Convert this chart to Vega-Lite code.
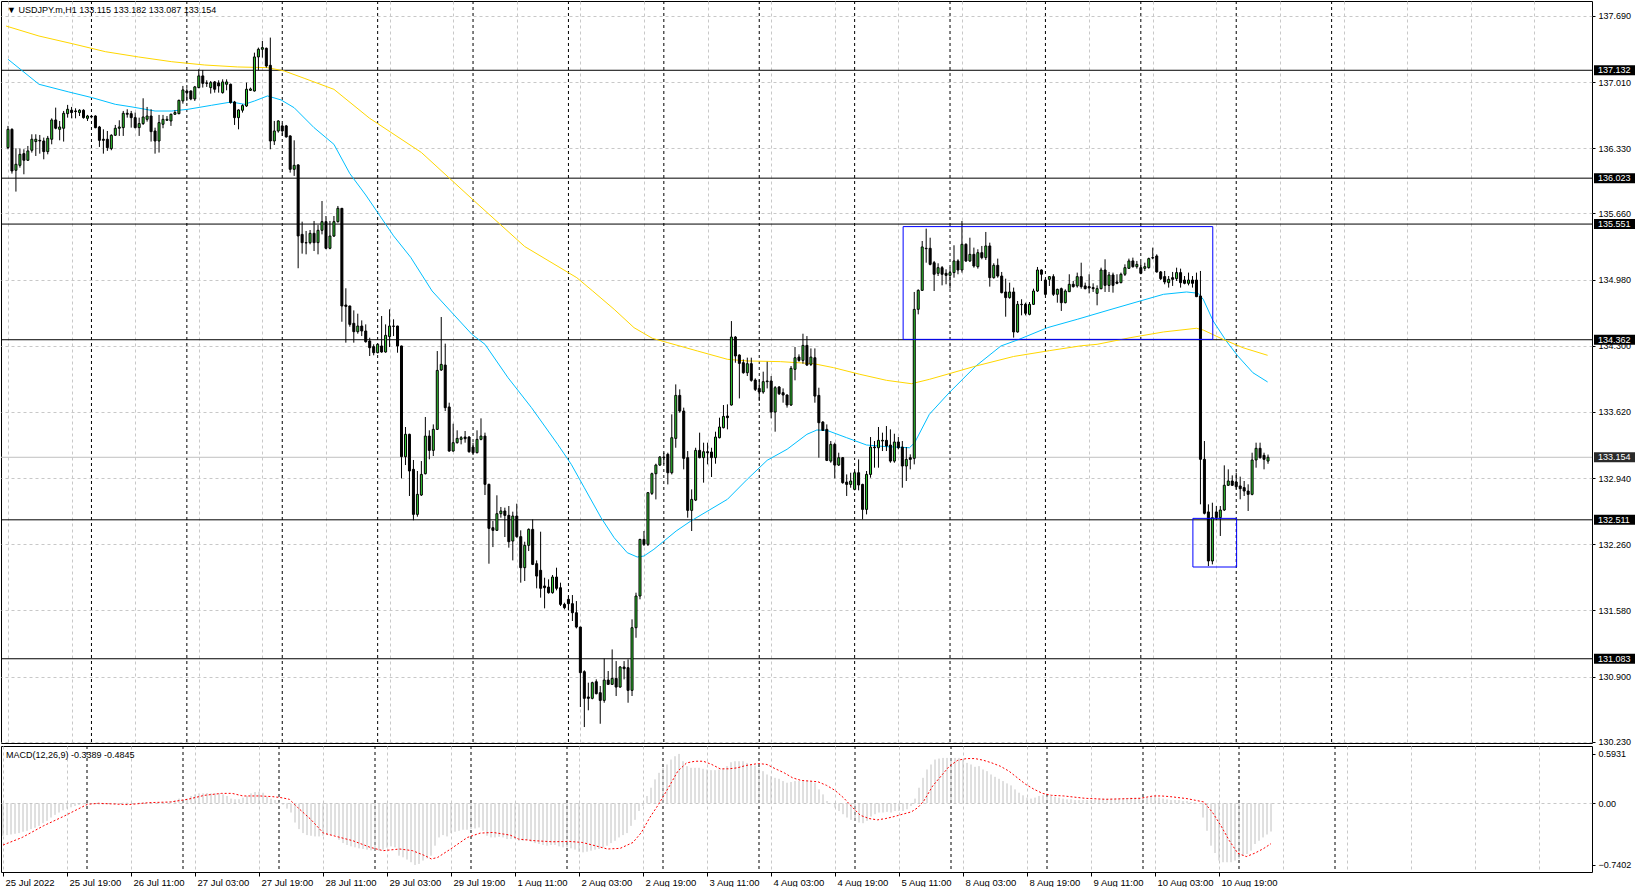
{
"$schema": "https://vega.github.io/schema/vega-lite/v6.json",
"padding": 0,
"background": "#ffffff",
"spacing": 3,
"bounds": "flush",
"config": {
  "font": "Liberation Sans",
  "view": {"stroke": "#000000", "strokeWidth": 1},
  "axis": {"labelFont": "Liberation Sans", "labelFontSize": 9, "labelColor": "#000000", "tickColor": "#000000"}
},
"datasets": {
"days": [{"i":21},{"i":45},{"i":69},{"i":93},{"i":117},{"i":141},{"i":165},{"i":189},{"i":213},{"i":237},{"i":261},{"i":285},{"i":309},{"i":333}],
"levels": [{"p":137.132,"k":"a"},{"p":136.023,"k":"a"},{"p":135.551,"k":"a"},{"p":134.362,"k":"a"},{"p":132.511,"k":"a"},{"p":131.083,"k":"a"},{"p":133.154,"k":"b"}],
"boxes": [{"i":225.2,"i2":303.1,"p":134.366,"p2":135.525},{"i":298.1,"i2":309.1,"p":132.026,"p2":132.526}],
"bars": [
{"i":0,"o":136.337,"h":136.56,"l":136.32,"c":136.525,"m":-0.39},
{"i":1,"o":136.525,"h":136.535,"l":136.07,"c":136.097,"m":-0.382},
{"i":2,"o":136.104,"h":136.33,"l":135.885,"c":136.166,"m":-0.374},
{"i":3,"o":136.155,"h":136.327,"l":136.131,"c":136.268,"m":-0.366},
{"i":4,"o":136.275,"h":136.32,"l":136.063,"c":136.207,"m":-0.358},
{"i":5,"o":136.207,"h":136.354,"l":136.2,"c":136.303,"m":-0.342},
{"i":6,"o":136.31,"h":136.474,"l":136.286,"c":136.423,"m":-0.33},
{"i":7,"o":136.399,"h":136.474,"l":136.251,"c":136.423,"m":-0.31},
{"i":8,"o":136.412,"h":136.467,"l":136.275,"c":136.405,"m":-0.294},
{"i":9,"o":136.405,"h":136.44,"l":136.217,"c":136.296,"m":-0.271},
{"i":10,"o":136.296,"h":136.457,"l":136.268,"c":136.433,"m":-0.239},
{"i":11,"o":136.423,"h":136.638,"l":136.371,"c":136.621,"m":-0.211},
{"i":12,"o":136.621,"h":136.748,"l":136.525,"c":136.536,"m":-0.171},
{"i":13,"o":136.525,"h":136.611,"l":136.412,"c":136.549,"m":-0.139},
{"i":14,"o":136.536,"h":136.714,"l":136.399,"c":136.69,"m":-0.111},
{"i":15,"o":136.686,"h":136.776,"l":136.645,"c":136.731,"m":-0.084},
{"i":16,"o":136.721,"h":136.755,"l":136.638,"c":136.697,"m":-0.064},
{"i":17,"o":136.714,"h":136.741,"l":136.638,"c":136.707,"m":-0.048},
{"i":18,"o":136.697,"h":136.731,"l":136.662,"c":136.721,"m":-0.032},
{"i":19,"o":136.721,"h":136.731,"l":136.635,"c":136.645,"m":-0.02},
{"i":20,"o":136.638,"h":136.673,"l":136.611,"c":136.662,"m":-0.012},
{"i":21,"o":136.659,"h":136.673,"l":136.638,"c":136.652,"m":-0.008},
{"i":22,"o":136.662,"h":136.669,"l":136.536,"c":136.542,"m":-0.008},
{"i":23,"o":136.549,"h":136.56,"l":136.344,"c":136.412,"m":-0.012},
{"i":24,"o":136.423,"h":136.525,"l":136.275,"c":136.412,"m":-0.016},
{"i":25,"o":136.423,"h":136.508,"l":136.303,"c":136.337,"m":-0.016},
{"i":26,"o":136.327,"h":136.474,"l":136.31,"c":136.464,"m":-0.012},
{"i":27,"o":136.464,"h":136.57,"l":136.457,"c":136.536,"m":-0.008},
{"i":28,"o":136.536,"h":136.618,"l":136.457,"c":136.549,"m":-0.004},
{"i":29,"o":136.542,"h":136.714,"l":136.457,"c":136.69,"m":0.004},
{"i":30,"o":136.69,"h":136.731,"l":136.645,"c":136.68,"m":0.008},
{"i":31,"o":136.686,"h":136.714,"l":136.542,"c":136.645,"m":0.008},
{"i":32,"o":136.645,"h":136.697,"l":136.536,"c":136.542,"m":0.004},
{"i":33,"o":136.542,"h":136.645,"l":136.457,"c":136.584,"m":0.004},
{"i":34,"o":136.584,"h":136.844,"l":136.57,"c":136.652,"m":0.008},
{"i":35,"o":136.628,"h":136.755,"l":136.604,"c":136.662,"m":0.012},
{"i":36,"o":136.662,"h":136.731,"l":136.399,"c":136.501,"m":0.008},
{"i":37,"o":136.508,"h":136.542,"l":136.275,"c":136.405,"m":-0.002},
{"i":38,"o":136.405,"h":136.673,"l":136.286,"c":136.594,"m":0.004},
{"i":39,"o":136.577,"h":136.673,"l":136.536,"c":136.628,"m":0.008},
{"i":40,"o":136.618,"h":136.662,"l":136.611,"c":136.628,"m":0.012},
{"i":41,"o":136.611,"h":136.686,"l":136.56,"c":136.68,"m":0.016},
{"i":42,"o":136.68,"h":136.721,"l":136.673,"c":136.697,"m":0.024},
{"i":43,"o":136.686,"h":136.83,"l":136.68,"c":136.823,"m":0.036},
{"i":44,"o":136.817,"h":136.971,"l":136.789,"c":136.93,"m":0.056},
{"i":45,"o":136.919,"h":136.947,"l":136.817,"c":136.902,"m":0.048},
{"i":46,"o":136.919,"h":136.925,"l":136.824,"c":136.837,"m":0.056},
{"i":47,"o":136.837,"h":136.971,"l":136.817,"c":136.961,"m":0.088},
{"i":48,"o":136.954,"h":137.142,"l":136.947,"c":137.074,"m":0.107},
{"i":49,"o":137.074,"h":137.135,"l":136.954,"c":136.998,"m":0.119},
{"i":50,"o":137.002,"h":137.029,"l":136.961,"c":136.998,"m":0.119},
{"i":51,"o":136.954,"h":137.022,"l":136.892,"c":137.005,"m":0.123},
{"i":52,"o":137.012,"h":137.022,"l":136.902,"c":136.937,"m":0.119},
{"i":53,"o":137.002,"h":137.029,"l":136.902,"c":136.971,"m":0.119},
{"i":54,"o":136.902,"h":137.039,"l":136.892,"c":137.012,"m":0.119},
{"i":55,"o":136.988,"h":137.039,"l":136.926,"c":137.012,"m":0.107},
{"i":56,"o":136.988,"h":136.995,"l":136.789,"c":136.8,"m":0.088},
{"i":57,"o":136.806,"h":136.817,"l":136.57,"c":136.645,"m":0.056},
{"i":58,"o":136.645,"h":136.731,"l":136.525,"c":136.724,"m":0.048},
{"i":59,"o":136.721,"h":136.782,"l":136.697,"c":136.769,"m":0.048},
{"i":60,"o":136.765,"h":137.005,"l":136.755,"c":136.937,"m":0.068},
{"i":61,"o":136.926,"h":136.954,"l":136.919,"c":136.94,"m":0.088},
{"i":62,"o":136.919,"h":137.313,"l":136.913,"c":137.269,"m":0.119},
{"i":63,"o":137.269,"h":137.365,"l":137.132,"c":137.348,"m":0.135},
{"i":64,"o":137.348,"h":137.433,"l":137.262,"c":137.365,"m":0.139},
{"i":65,"o":137.358,"h":137.365,"l":137.159,"c":137.176,"m":0.127},
{"i":66,"o":137.183,"h":137.468,"l":136.32,"c":136.405,"m":0.08},
{"i":67,"o":136.405,"h":136.611,"l":136.364,"c":136.508,"m":0.056},
{"i":68,"o":136.508,"h":136.618,"l":136.491,"c":136.611,"m":0.04},
{"i":69,"o":136.56,"h":136.584,"l":136.457,"c":136.508,"m":0.016},
{"i":70,"o":136.56,"h":136.57,"l":136.44,"c":136.447,"m":-0.016},
{"i":71,"o":136.457,"h":136.462,"l":136.08,"c":136.114,"m":-0.064},
{"i":72,"o":136.114,"h":136.412,"l":136.046,"c":136.155,"m":-0.111},
{"i":73,"o":136.159,"h":136.165,"l":135.097,"c":135.429,"m":-0.231},
{"i":74,"o":135.445,"h":135.576,"l":135.247,"c":135.36,"m":-0.31},
{"i":75,"o":135.36,"h":135.48,"l":135.24,"c":135.357,"m":-0.358},
{"i":76,"o":135.36,"h":135.49,"l":135.343,"c":135.456,"m":-0.382},
{"i":77,"o":135.456,"h":135.583,"l":135.274,"c":135.36,"m":-0.39},
{"i":78,"o":135.36,"h":135.541,"l":135.24,"c":135.487,"m":-0.398},
{"i":79,"o":135.487,"h":135.788,"l":135.445,"c":135.576,"m":-0.398},
{"i":80,"o":135.576,"h":135.634,"l":135.292,"c":135.302,"m":-0.39},
{"i":81,"o":135.302,"h":135.583,"l":135.292,"c":135.428,"m":-0.382},
{"i":82,"o":135.428,"h":135.634,"l":135.418,"c":135.576,"m":-0.382},
{"i":83,"o":135.576,"h":135.737,"l":135.566,"c":135.713,"m":-0.382},
{"i":84,"o":135.713,"h":135.716,"l":134.547,"c":134.709,"m":-0.438},
{"i":85,"o":134.719,"h":134.891,"l":134.332,"c":134.705,"m":-0.478},
{"i":86,"o":134.709,"h":134.712,"l":134.496,"c":134.52,"m":-0.501},
{"i":87,"o":134.531,"h":134.664,"l":134.332,"c":134.445,"m":-0.517},
{"i":88,"o":134.445,"h":134.63,"l":134.424,"c":134.503,"m":-0.529},
{"i":89,"o":134.503,"h":134.561,"l":134.4,"c":134.452,"m":-0.541},
{"i":90,"o":134.452,"h":134.52,"l":134.332,"c":134.342,"m":-0.549},
{"i":91,"o":134.349,"h":134.383,"l":134.195,"c":134.28,"m":-0.557},
{"i":92,"o":134.291,"h":134.315,"l":134.202,"c":134.229,"m":-0.565},
{"i":93,"o":134.229,"h":134.322,"l":134.222,"c":134.315,"m":-0.573},
{"i":94,"o":134.298,"h":134.606,"l":134.229,"c":134.236,"m":-0.569},
{"i":95,"o":134.236,"h":134.52,"l":134.229,"c":134.407,"m":-0.557},
{"i":96,"o":134.394,"h":134.675,"l":134.287,"c":134.503,"m":-0.533},
{"i":97,"o":134.503,"h":134.572,"l":134.4,"c":134.5,"m":-0.517},
{"i":98,"o":134.503,"h":134.506,"l":134.229,"c":134.298,"m":-0.529},
{"i":99,"o":134.298,"h":134.301,"l":132.937,"c":133.16,"m":-0.629},
{"i":100,"o":133.16,"h":133.465,"l":133.074,"c":133.39,"m":-0.649},
{"i":101,"o":133.39,"h":133.396,"l":132.756,"c":133.013,"m":-0.676},
{"i":102,"o":133.03,"h":133.126,"l":132.506,"c":132.567,"m":-0.708},
{"i":103,"o":132.567,"h":133.013,"l":132.543,"c":132.773,"m":-0.7402},
{"i":104,"o":132.766,"h":133.115,"l":132.756,"c":132.978,"m":-0.728},
{"i":105,"o":132.985,"h":133.568,"l":132.978,"c":133.372,"m":-0.688},
{"i":106,"o":133.372,"h":133.431,"l":133.133,"c":133.225,"m":-0.661},
{"i":107,"o":133.225,"h":133.492,"l":133.167,"c":133.441,"m":-0.629},
{"i":108,"o":133.441,"h":134.246,"l":133.434,"c":134.047,"m":-0.509},
{"i":109,"o":134.051,"h":134.596,"l":134.041,"c":134.109,"m":-0.41},
{"i":110,"o":134.102,"h":134.322,"l":133.629,"c":133.664,"m":-0.382},
{"i":111,"o":133.671,"h":133.715,"l":133.211,"c":133.218,"m":-0.398},
{"i":112,"o":133.218,"h":133.499,"l":133.211,"c":133.304,"m":-0.358},
{"i":113,"o":133.304,"h":133.431,"l":133.294,"c":133.348,"m":-0.342},
{"i":114,"o":133.338,"h":133.372,"l":133.287,"c":133.355,"m":-0.33},
{"i":115,"o":133.362,"h":133.424,"l":133.304,"c":133.345,"m":-0.318},
{"i":116,"o":133.362,"h":133.372,"l":133.201,"c":133.211,"m":-0.318},
{"i":117,"o":133.259,"h":133.304,"l":133.177,"c":133.201,"m":-0.31},
{"i":118,"o":133.201,"h":133.431,"l":133.194,"c":133.338,"m":-0.302},
{"i":119,"o":133.338,"h":133.554,"l":133.328,"c":133.372,"m":-0.29},
{"i":120,"o":133.372,"h":133.407,"l":132.766,"c":132.876,"m":-0.33},
{"i":121,"o":132.876,"h":132.882,"l":132.06,"c":132.423,"m":-0.39},
{"i":122,"o":132.43,"h":132.499,"l":132.231,"c":132.403,"m":-0.41},
{"i":123,"o":132.403,"h":132.763,"l":132.396,"c":132.574,"m":-0.41},
{"i":124,"o":132.574,"h":132.643,"l":132.533,"c":132.602,"m":-0.402},
{"i":125,"o":132.602,"h":132.636,"l":132.334,"c":132.557,"m":-0.41},
{"i":126,"o":132.557,"h":132.653,"l":132.225,"c":132.286,"m":-0.43},
{"i":127,"o":132.293,"h":132.595,"l":132.094,"c":132.55,"m":-0.43},
{"i":128,"o":132.55,"h":132.677,"l":132.327,"c":132.338,"m":-0.43},
{"i":129,"o":132.338,"h":132.403,"l":131.865,"c":132.019,"m":-0.45},
{"i":130,"o":132.019,"h":132.286,"l":131.882,"c":132.249,"m":-0.45},
{"i":131,"o":132.249,"h":132.423,"l":132.19,"c":132.413,"m":-0.442},
{"i":132,"o":132.413,"h":132.516,"l":132.046,"c":132.053,"m":-0.462},
{"i":133,"o":132.06,"h":132.094,"l":131.807,"c":131.933,"m":-0.478},
{"i":134,"o":131.992,"h":132.389,"l":131.711,"c":131.807,"m":-0.489},
{"i":135,"o":131.831,"h":131.916,"l":131.601,"c":131.813,"m":-0.501},
{"i":136,"o":131.82,"h":131.899,"l":131.752,"c":131.762,"m":-0.509},
{"i":137,"o":131.762,"h":131.944,"l":131.752,"c":131.923,"m":-0.501},
{"i":138,"o":131.923,"h":132.019,"l":131.786,"c":131.807,"m":-0.501},
{"i":139,"o":131.813,"h":131.865,"l":131.625,"c":131.642,"m":-0.517},
{"i":140,"o":131.642,"h":131.659,"l":131.591,"c":131.608,"m":-0.529},
{"i":141,"o":131.694,"h":131.728,"l":131.58,"c":131.649,"m":-0.529},
{"i":142,"o":131.649,"h":131.738,"l":131.471,"c":131.556,"m":-0.541},
{"i":143,"o":131.556,"h":131.676,"l":131.395,"c":131.409,"m":-0.557},
{"i":144,"o":131.409,"h":131.412,"l":130.587,"c":130.94,"m":-0.581},
{"i":145,"o":130.95,"h":130.964,"l":130.381,"c":130.676,"m":-0.589},
{"i":146,"o":130.69,"h":130.837,"l":130.553,"c":130.676,"m":-0.581},
{"i":147,"o":130.676,"h":130.847,"l":130.666,"c":130.837,"m":-0.569},
{"i":148,"o":130.847,"h":130.871,"l":130.717,"c":130.724,"m":-0.557},
{"i":149,"o":130.734,"h":130.803,"l":130.415,"c":130.655,"m":-0.549},
{"i":150,"o":130.655,"h":131.084,"l":130.631,"c":130.864,"m":-0.529},
{"i":151,"o":130.864,"h":130.957,"l":130.813,"c":130.82,"m":-0.509},
{"i":152,"o":130.82,"h":131.179,"l":130.813,"c":130.881,"m":-0.478},
{"i":153,"o":130.881,"h":131.059,"l":130.7,"c":130.792,"m":-0.45},
{"i":154,"o":130.792,"h":131.008,"l":130.785,"c":130.998,"m":-0.41},
{"i":155,"o":130.998,"h":131.059,"l":130.871,"c":130.981,"m":-0.382},
{"i":156,"o":130.991,"h":131.077,"l":130.631,"c":130.758,"m":-0.358},
{"i":157,"o":130.758,"h":131.488,"l":130.7,"c":131.402,"m":-0.271},
{"i":158,"o":131.402,"h":131.762,"l":131.299,"c":131.728,"m":-0.199},
{"i":159,"o":131.728,"h":132.315,"l":131.694,"c":132.31,"m":-0.092},
{"i":160,"o":132.31,"h":132.396,"l":132.242,"c":132.259,"m":-0.032},
{"i":161,"o":132.259,"h":132.795,"l":132.242,"c":132.79,"m":0.088},
{"i":162,"o":132.783,"h":132.996,"l":132.766,"c":132.985,"m":0.187},
{"i":163,"o":132.985,"h":133.088,"l":132.721,"c":133.074,"m":0.287},
{"i":164,"o":133.074,"h":133.167,"l":133.064,"c":133.156,"m":0.366},
{"i":165,"o":133.156,"h":133.201,"l":133.081,"c":133.15,"m":0.426},
{"i":166,"o":133.184,"h":133.201,"l":132.875,"c":132.995,"m":0.466},
{"i":167,"o":132.995,"h":133.595,"l":132.978,"c":133.355,"m":0.525},
{"i":168,"o":133.348,"h":133.903,"l":133.252,"c":133.79,"m":0.565},
{"i":169,"o":133.79,"h":133.852,"l":133.612,"c":133.629,"m":0.5931},
{"i":170,"o":133.629,"h":133.664,"l":133.03,"c":133.143,"m":0.505},
{"i":171,"o":133.15,"h":133.218,"l":132.533,"c":132.608,"m":0.446},
{"i":172,"o":132.608,"h":132.824,"l":132.396,"c":132.721,"m":0.426},
{"i":173,"o":132.714,"h":133.252,"l":132.704,"c":133.225,"m":0.426},
{"i":174,"o":133.225,"h":133.407,"l":133.143,"c":133.15,"m":0.426},
{"i":175,"o":133.15,"h":133.304,"l":132.893,"c":133.211,"m":0.414},
{"i":176,"o":133.211,"h":133.304,"l":133.081,"c":133.201,"m":0.406},
{"i":177,"o":133.208,"h":133.252,"l":132.951,"c":133.15,"m":0.398},
{"i":178,"o":133.15,"h":133.417,"l":133.088,"c":133.362,"m":0.398},
{"i":179,"o":133.355,"h":133.561,"l":133.348,"c":133.465,"m":0.406},
{"i":180,"o":133.458,"h":133.691,"l":133.451,"c":133.574,"m":0.414},
{"i":181,"o":133.578,"h":133.698,"l":133.441,"c":133.561,"m":0.446},
{"i":182,"o":133.691,"h":134.554,"l":133.685,"c":134.39,"m":0.493},
{"i":183,"o":134.39,"h":134.4,"l":134.126,"c":134.195,"m":0.505},
{"i":184,"o":134.205,"h":134.212,"l":133.759,"c":134.119,"m":0.505},
{"i":185,"o":134.126,"h":134.16,"l":134.013,"c":134.023,"m":0.505},
{"i":186,"o":134.023,"h":134.178,"l":133.989,"c":134.116,"m":0.485},
{"i":187,"o":134.116,"h":134.178,"l":133.931,"c":133.945,"m":0.466},
{"i":188,"o":133.948,"h":133.965,"l":133.835,"c":133.852,"m":0.454},
{"i":189,"o":133.862,"h":133.955,"l":133.732,"c":133.825,"m":0.426},
{"i":190,"o":133.825,"h":134.034,"l":133.807,"c":133.931,"m":0.386},
{"i":191,"o":133.931,"h":134.136,"l":133.862,"c":133.938,"m":0.346},
{"i":192,"o":133.938,"h":133.989,"l":133.554,"c":133.619,"m":0.326},
{"i":193,"o":133.619,"h":133.886,"l":133.417,"c":133.869,"m":0.306},
{"i":194,"o":133.876,"h":133.886,"l":133.794,"c":133.807,"m":0.294},
{"i":195,"o":133.818,"h":133.862,"l":133.715,"c":133.794,"m":0.267},
{"i":196,"o":133.794,"h":133.801,"l":133.664,"c":133.691,"m":0.247},
{"i":197,"o":133.691,"h":134.092,"l":133.681,"c":134.068,"m":0.255},
{"i":198,"o":134.058,"h":134.287,"l":133.945,"c":134.177,"m":0.267},
{"i":199,"o":134.184,"h":134.212,"l":134.136,"c":134.15,"m":0.267},
{"i":200,"o":134.15,"h":134.424,"l":134.116,"c":134.304,"m":0.267},
{"i":201,"o":134.304,"h":134.4,"l":134.092,"c":134.102,"m":0.267},
{"i":202,"o":134.109,"h":134.273,"l":134.092,"c":134.184,"m":0.267},
{"i":203,"o":134.177,"h":134.273,"l":133.715,"c":133.783,"m":0.247},
{"i":204,"o":133.79,"h":133.869,"l":133.15,"c":133.509,"m":0.167},
{"i":205,"o":133.516,"h":133.526,"l":133.424,"c":133.43,"m":0.107},
{"i":206,"o":133.441,"h":133.492,"l":133.115,"c":133.122,"m":0.028},
{"i":207,"o":133.115,"h":133.321,"l":133.098,"c":133.287,"m":-0.005},
{"i":208,"o":133.287,"h":133.304,"l":132.937,"c":133.074,"m":-0.052},
{"i":209,"o":133.074,"h":133.201,"l":133.064,"c":133.15,"m":-0.092},
{"i":210,"o":133.15,"h":133.156,"l":132.882,"c":132.893,"m":-0.131},
{"i":211,"o":132.899,"h":132.978,"l":132.756,"c":132.875,"m":-0.171},
{"i":212,"o":132.875,"h":132.995,"l":132.841,"c":132.91,"m":-0.199},
{"i":213,"o":132.824,"h":133.013,"l":132.814,"c":132.995,"m":-0.211},
{"i":214,"o":132.995,"h":133.132,"l":132.814,"c":132.869,"m":-0.231},
{"i":215,"o":132.875,"h":132.882,"l":132.516,"c":132.618,"m":-0.239},
{"i":216,"o":132.618,"h":133.013,"l":132.567,"c":132.978,"m":-0.211},
{"i":217,"o":132.978,"h":133.362,"l":132.944,"c":133.259,"m":-0.159},
{"i":218,"o":133.259,"h":133.321,"l":133.047,"c":133.252,"m":-0.131},
{"i":219,"o":133.252,"h":133.465,"l":133.047,"c":133.328,"m":-0.111},
{"i":220,"o":133.321,"h":133.407,"l":133.218,"c":133.328,"m":-0.111},
{"i":221,"o":133.328,"h":133.475,"l":133.218,"c":133.27,"m":-0.103},
{"i":222,"o":133.28,"h":133.441,"l":133.098,"c":133.115,"m":-0.111},
{"i":223,"o":133.115,"h":133.396,"l":133.098,"c":133.311,"m":-0.092},
{"i":224,"o":133.311,"h":133.362,"l":133.235,"c":133.252,"m":-0.092},
{"i":225,"o":133.259,"h":133.321,"l":132.841,"c":133.064,"m":-0.092},
{"i":226,"o":133.064,"h":133.259,"l":132.91,"c":133.132,"m":-0.072},
{"i":227,"o":133.15,"h":133.184,"l":133.03,"c":133.132,"m":-0.032},
{"i":228,"o":133.143,"h":134.853,"l":133.081,"c":134.674,"m":0.056},
{"i":229,"o":134.675,"h":134.88,"l":134.623,"c":134.87,"m":0.187},
{"i":230,"o":134.87,"h":135.377,"l":134.863,"c":135.316,"m":0.306},
{"i":231,"o":135.302,"h":135.504,"l":135.154,"c":135.298,"m":0.406},
{"i":232,"o":135.302,"h":135.411,"l":135.127,"c":135.137,"m":0.466},
{"i":233,"o":135.154,"h":135.172,"l":134.863,"c":135.035,"m":0.525},
{"i":234,"o":135.045,"h":135.148,"l":135.017,"c":135.103,"m":0.537},
{"i":235,"o":135.103,"h":135.12,"l":134.921,"c":135.035,"m":0.545},
{"i":236,"o":135.045,"h":135.086,"l":134.932,"c":135.024,"m":0.545},
{"i":237,"o":135.024,"h":135.103,"l":134.887,"c":135.052,"m":0.545},
{"i":238,"o":135.052,"h":135.333,"l":135.0,"c":135.172,"m":0.545},
{"i":239,"o":135.172,"h":135.189,"l":135.035,"c":135.079,"m":0.545},
{"i":240,"o":135.079,"h":135.583,"l":135.052,"c":135.343,"m":0.525},
{"i":241,"o":135.343,"h":135.353,"l":135.161,"c":135.172,"m":0.485},
{"i":242,"o":135.172,"h":135.411,"l":135.161,"c":135.24,"m":0.466},
{"i":243,"o":135.24,"h":135.309,"l":135.103,"c":135.12,"m":0.438},
{"i":244,"o":135.113,"h":135.292,"l":135.093,"c":135.257,"m":0.446},
{"i":245,"o":135.257,"h":135.326,"l":135.189,"c":135.206,"m":0.406},
{"i":246,"o":135.206,"h":135.47,"l":135.182,"c":135.326,"m":0.386},
{"i":247,"o":135.326,"h":135.36,"l":134.908,"c":135.0,"m":0.346},
{"i":248,"o":135.0,"h":135.148,"l":134.99,"c":135.127,"m":0.318},
{"i":249,"o":135.127,"h":135.196,"l":135.0,"c":135.017,"m":0.294},
{"i":250,"o":135.017,"h":135.059,"l":134.839,"c":134.846,"m":0.267},
{"i":251,"o":134.853,"h":134.99,"l":134.599,"c":134.795,"m":0.239},
{"i":252,"o":134.795,"h":134.949,"l":134.784,"c":134.853,"m":0.215},
{"i":253,"o":134.853,"h":134.898,"l":134.384,"c":134.442,"m":0.167},
{"i":254,"o":134.442,"h":134.76,"l":134.435,"c":134.726,"m":0.127},
{"i":255,"o":134.726,"h":134.778,"l":134.613,"c":134.723,"m":0.096},
{"i":256,"o":134.726,"h":134.743,"l":134.613,"c":134.634,"m":0.068},
{"i":257,"o":134.623,"h":134.75,"l":134.613,"c":134.726,"m":0.056},
{"i":258,"o":134.726,"h":134.887,"l":134.719,"c":134.863,"m":0.068},
{"i":259,"o":134.863,"h":135.11,"l":134.853,"c":135.079,"m":0.088},
{"i":260,"o":135.079,"h":135.086,"l":134.966,"c":135.035,"m":0.096},
{"i":261,"o":134.976,"h":134.99,"l":134.819,"c":134.829,"m":0.088},
{"i":262,"o":134.983,"h":135.017,"l":134.915,"c":135.011,"m":0.088},
{"i":263,"o":135.011,"h":135.035,"l":134.812,"c":134.829,"m":0.08},
{"i":264,"o":134.829,"h":134.887,"l":134.743,"c":134.88,"m":0.068},
{"i":265,"o":134.887,"h":134.898,"l":134.658,"c":134.743,"m":0.056},
{"i":266,"o":134.743,"h":134.88,"l":134.736,"c":134.863,"m":0.048},
{"i":267,"o":134.856,"h":135.035,"l":134.853,"c":134.932,"m":0.048},
{"i":268,"o":134.932,"h":134.966,"l":134.898,"c":134.908,"m":0.04},
{"i":269,"o":134.915,"h":135.052,"l":134.898,"c":135.011,"m":0.04},
{"i":270,"o":135.011,"h":135.154,"l":134.887,"c":134.908,"m":0.04},
{"i":271,"o":134.915,"h":134.949,"l":134.88,"c":134.887,"m":0.04},
{"i":272,"o":134.908,"h":135.035,"l":134.839,"c":134.894,"m":0.04},
{"i":273,"o":134.898,"h":134.942,"l":134.853,"c":134.887,"m":0.04},
{"i":274,"o":134.839,"h":134.921,"l":134.716,"c":134.887,"m":0.048},
{"i":275,"o":134.887,"h":135.103,"l":134.88,"c":135.079,"m":0.056},
{"i":276,"o":135.079,"h":135.189,"l":134.853,"c":134.921,"m":0.056},
{"i":277,"o":134.921,"h":135.059,"l":134.853,"c":135.028,"m":0.056},
{"i":278,"o":135.028,"h":135.052,"l":134.846,"c":134.921,"m":0.056},
{"i":279,"o":134.956,"h":135.035,"l":134.932,"c":134.942,"m":0.056},
{"i":280,"o":134.949,"h":135.052,"l":134.942,"c":135.035,"m":0.056},
{"i":281,"o":135.035,"h":135.137,"l":135.017,"c":135.103,"m":0.064},
{"i":282,"o":135.096,"h":135.196,"l":135.093,"c":135.172,"m":0.068},
{"i":283,"o":135.172,"h":135.206,"l":135.103,"c":135.113,"m":0.068},
{"i":284,"o":135.113,"h":135.172,"l":135.093,"c":135.137,"m":0.068},
{"i":285,"o":135.103,"h":135.161,"l":135.035,"c":135.045,"m":0.068},
{"i":286,"o":135.096,"h":135.154,"l":135.069,"c":135.113,"m":0.068},
{"i":287,"o":135.103,"h":135.206,"l":135.093,"c":135.196,"m":0.08},
{"i":288,"o":135.206,"h":135.309,"l":135.189,"c":135.202,"m":0.08},
{"i":289,"o":135.223,"h":135.24,"l":135.052,"c":135.059,"m":0.068},
{"i":290,"o":135.059,"h":135.069,"l":134.976,"c":134.99,"m":0.056},
{"i":291,"o":135.011,"h":135.069,"l":134.932,"c":134.956,"m":0.048},
{"i":292,"o":134.949,"h":135.017,"l":134.898,"c":134.983,"m":0.04},
{"i":293,"o":135.0,"h":135.059,"l":134.915,"c":134.983,"m":0.04},
{"i":294,"o":134.99,"h":135.103,"l":134.966,"c":135.052,"m":0.04},
{"i":295,"o":135.052,"h":135.093,"l":134.898,"c":134.949,"m":0.028},
{"i":296,"o":134.976,"h":135.017,"l":134.932,"c":134.942,"m":0.028},
{"i":297,"o":134.942,"h":135.052,"l":134.921,"c":134.976,"m":0.016},
{"i":298,"o":134.976,"h":135.017,"l":134.898,"c":134.942,"m":0.008},
{"i":299,"o":134.976,"h":135.052,"l":134.8,"c":134.805,"m":0.002},
{"i":300,"o":134.812,"h":135.069,"l":132.67,"c":133.133,"m":-0.171},
{"i":301,"o":133.133,"h":133.321,"l":132.567,"c":132.578,"m":-0.33},
{"i":302,"o":132.592,"h":132.67,"l":132.036,"c":132.088,"m":-0.509},
{"i":303,"o":132.088,"h":132.687,"l":132.053,"c":132.533,"m":-0.597},
{"i":304,"o":132.592,"h":132.653,"l":132.509,"c":132.533,"m":-0.688},
{"i":305,"o":132.533,"h":132.653,"l":132.345,"c":132.612,"m":-0.708},
{"i":306,"o":132.612,"h":133.071,"l":132.602,"c":132.866,"m":-0.708},
{"i":307,"o":132.866,"h":133.03,"l":132.859,"c":132.91,"m":-0.708},
{"i":308,"o":132.91,"h":132.968,"l":132.859,"c":132.866,"m":-0.688},
{"i":309,"o":132.9,"h":132.996,"l":132.824,"c":132.852,"m":-0.668},
{"i":310,"o":132.859,"h":132.955,"l":132.722,"c":132.831,"m":-0.629},
{"i":311,"o":132.842,"h":132.91,"l":132.756,"c":132.807,"m":-0.609},
{"i":312,"o":132.807,"h":132.876,"l":132.602,"c":132.773,"m":-0.569},
{"i":313,"o":132.773,"h":133.201,"l":132.763,"c":133.126,"m":-0.489},
{"i":314,"o":133.126,"h":133.304,"l":133.047,"c":133.246,"m":-0.45},
{"i":315,"o":133.246,"h":133.304,"l":133.14,"c":133.15,"m":-0.41},
{"i":316,"o":133.174,"h":133.201,"l":133.03,"c":133.133,"m":-0.375},
{"i":317,"o":133.115,"h":133.182,"l":133.087,"c":133.154,"m":-0.3389}
],
"ma": [
{"k":"f","i":0,"p":137.245},{"k":"f","i":7.8,"p":136.988},{"k":"f","i":15.3,"p":136.909},{"k":"f","i":21.2,"p":136.85},{"k":"f","i":27,"p":136.782},{"k":"f","i":31.2,"p":136.755},{"k":"f","i":37,"p":136.713},{"k":"f","i":41.2,"p":136.713},{"k":"f","i":45.3,"p":136.731},{"k":"f","i":51.2,"p":136.772},{"k":"f","i":56.2,"p":136.806},{"k":"f","i":59.5,"p":136.782},{"k":"f","i":62,"p":136.816},{"k":"f","i":65.3,"p":136.868},{"k":"f","i":68.7,"p":136.827},{"k":"f","i":72,"p":136.747},{"k":"f","i":77,"p":136.542},{"k":"f","i":82,"p":136.371},{"k":"f","i":86,"p":136.07},{"k":"f","i":90,"p":135.85},{"k":"f","i":93.5,"p":135.64},{"k":"f","i":97,"p":135.43},{"k":"f","i":101.3,"p":135.21},{"k":"f","i":106.7,"p":134.863},{"k":"f","i":116.7,"p":134.418},{"k":"f","i":120,"p":134.315},{"k":"f","i":125.8,"p":133.972},{"k":"f","i":131.7,"p":133.664},{"k":"f","i":138.3,"p":133.287},{"k":"f","i":141.7,"p":133.082},{"k":"f","i":145,"p":132.841},{"k":"f","i":149.2,"p":132.533},{"k":"f","i":152.5,"p":132.327},{"k":"f","i":155.8,"p":132.173},{"k":"f","i":158.3,"p":132.129},{"k":"f","i":160,"p":132.139},{"k":"f","i":162.5,"p":132.208},{"k":"f","i":168.1,"p":132.396},{"k":"f","i":171.8,"p":132.499},{"k":"f","i":181,"p":132.722},{"k":"f","i":186,"p":132.928},{"k":"f","i":191,"p":133.123},{"k":"f","i":196,"p":133.236},{"k":"f","i":201,"p":133.39},{"k":"f","i":203.5,"p":133.434},{"k":"f","i":206,"p":133.431},{"k":"f","i":211,"p":133.355},{"k":"f","i":216,"p":133.28},{"k":"f","i":221,"p":133.263},{"k":"f","i":226.8,"p":133.252},{"k":"f","i":228.1,"p":133.304},{"k":"f","i":231.8,"p":133.596},{"k":"f","i":236.8,"p":133.818},{"k":"f","i":243.5,"p":134.092},{"k":"f","i":249.8,"p":134.298},{"k":"f","i":254,"p":134.36},{"k":"f","i":261.5,"p":134.486},{"k":"f","i":269,"p":134.572},{"k":"f","i":277,"p":134.668},{"k":"f","i":284.8,"p":134.76},{"k":"f","i":290.7,"p":134.829},{"k":"f","i":296.5,"p":134.853},{"k":"f","i":299.4,"p":134.84},{"k":"f","i":300.7,"p":134.778},{"k":"f","i":303.2,"p":134.555},{"k":"f","i":306.5,"p":134.349},{"k":"f","i":309.4,"p":134.195},{"k":"f","i":313.2,"p":134.023},{"k":"f","i":316.9,"p":133.928},
{"k":"s","i":-0.5,"p":137.587},{"k":"s","i":7.8,"p":137.484},{"k":"s","i":16.2,"p":137.405},{"k":"s","i":24.5,"p":137.323},{"k":"s","i":32.8,"p":137.269},{"k":"s","i":41.2,"p":137.22},{"k":"s","i":49.5,"p":137.186},{"k":"s","i":57.8,"p":137.166},{"k":"s","i":65.3,"p":137.159},{"k":"s","i":69.5,"p":137.125},{"k":"s","i":74.5,"p":137.05},{"k":"s","i":82,"p":136.936},{"k":"s","i":90.9,"p":136.641},{"k":"s","i":104,"p":136.287},{"k":"s","i":117,"p":135.8},{"k":"s","i":130,"p":135.32},{"k":"s","i":143.1,"p":135.0},{"k":"s","i":147.1,"p":134.863},{"k":"s","i":152.5,"p":134.675},{"k":"s","i":157.5,"p":134.486},{"k":"s","i":162.1,"p":134.377},{"k":"s","i":166,"p":134.332},{"k":"s","i":173.5,"p":134.246},{"k":"s","i":181,"p":134.161},{"k":"s","i":186,"p":134.144},{"k":"s","i":194.3,"p":134.137},{"k":"s","i":202.7,"p":134.116},{"k":"s","i":207.7,"p":134.075},{"k":"s","i":214.3,"p":134.007},{"k":"s","i":221,"p":133.945},{"k":"s","i":227.3,"p":133.91},{"k":"s","i":231.8,"p":133.955},{"k":"s","i":236.8,"p":134.013},{"k":"s","i":243.5,"p":134.092},{"k":"s","i":253,"p":134.19},{"k":"s","i":262,"p":134.25},{"k":"s","i":270,"p":134.3},{"k":"s","i":274,"p":134.315},{"k":"s","i":282.3,"p":134.383},{"k":"s","i":290.7,"p":134.442},{"k":"s","i":299,"p":134.48},{"k":"s","i":300.7,"p":134.462},{"k":"s","i":305.7,"p":134.366},{"k":"s","i":310.7,"p":134.28},{"k":"s","i":316.9,"p":134.202}
],
"sig": [
{"i":0,"s":-0.501},{"i":4.8,"s":-0.41},{"i":10.1,"s":-0.271},{"i":15.4,"s":-0.151},{"i":21.1,"s":-0.012},{"i":23.9,"s":0.0},{"i":31.3,"s":-0.016},{"i":36.6,"s":0.008},{"i":41.9,"s":0.016},{"i":46.2,"s":0.048},{"i":50.4,"s":0.096},{"i":54.6,"s":0.119},{"i":57.3,"s":0.119},{"i":60,"s":0.088},{"i":64.2,"s":0.088},{"i":67.4,"s":0.08},{"i":69.5,"s":0.068},{"i":71.6,"s":0.048},{"i":73.7,"s":-0.052},{"i":76.9,"s":-0.191},{"i":80.1,"s":-0.358},{"i":84.3,"s":-0.41},{"i":87.5,"s":-0.45},{"i":91.8,"s":-0.529},{"i":95,"s":-0.569},{"i":99.2,"s":-0.549},{"i":102.4,"s":-0.569},{"i":105.5,"s":-0.629},{"i":107.1,"s":-0.669},{"i":108.7,"s":-0.649},{"i":111.9,"s":-0.549},{"i":116.1,"s":-0.41},{"i":119.3,"s":-0.358},{"i":122.5,"s":-0.35},{"i":126.8,"s":-0.382},{"i":128.9,"s":-0.43},{"i":133.1,"s":-0.45},{"i":137.4,"s":-0.462},{"i":141.6,"s":-0.458},{"i":144.8,"s":-0.47},{"i":148,"s":-0.509},{"i":151.1,"s":-0.549},{"i":154.3,"s":-0.541},{"i":157.5,"s":-0.47},{"i":159.6,"s":-0.35},{"i":161.7,"s":-0.171},{"i":163.9,"s":-0.012},{"i":166.6,"s":0.207},{"i":168.7,"s":0.386},{"i":170.9,"s":0.485},{"i":173,"s":0.505},{"i":175.1,"s":0.505},{"i":177.2,"s":0.466},{"i":179.3,"s":0.414},{"i":181.5,"s":0.414},{"i":183.6,"s":0.426},{"i":185.7,"s":0.454},{"i":188.9,"s":0.478},{"i":191,"s":0.466},{"i":193.1,"s":0.414},{"i":195.3,"s":0.366},{"i":197.4,"s":0.306},{"i":199.5,"s":0.275},{"i":201.6,"s":0.267},{"i":203.7,"s":0.259},{"i":205.9,"s":0.215},{"i":208,"s":0.155},{"i":210.1,"s":0.068},{"i":212.2,"s":-0.04},{"i":214.3,"s":-0.143},{"i":216.5,"s":-0.183},{"i":218.6,"s":-0.199},{"i":220.7,"s":-0.183},{"i":222.8,"s":-0.159},{"i":224.9,"s":-0.131},{"i":227.1,"s":-0.103},{"i":228.7,"s":-0.052},{"i":230.2,"s":0.028},{"i":232.4,"s":0.207},{"i":234.5,"s":0.326},{"i":236.6,"s":0.446},{"i":238.7,"s":0.517},{"i":240.9,"s":0.537},{"i":243,"s":0.537},{"i":245.1,"s":0.517},{"i":247.2,"s":0.485},{"i":249.3,"s":0.446},{"i":251.5,"s":0.386},{"i":253.6,"s":0.306},{"i":255.7,"s":0.227},{"i":257.8,"s":0.167},{"i":259.9,"s":0.119},{"i":262.1,"s":0.096},{"i":265.2,"s":0.088},{"i":270.5,"s":0.06},{"i":275.8,"s":0.048},{"i":281.1,"s":0.056},{"i":284.3,"s":0.06},{"i":287.5,"s":0.088},{"i":289.6,"s":0.088},{"i":291.8,"s":0.08},{"i":296,"s":0.056},{"i":298.1,"s":0.036},{"i":300.2,"s":0.016},{"i":302.4,"s":-0.111},{"i":304.5,"s":-0.271},{"i":306.6,"s":-0.45},{"i":308.7,"s":-0.6},{"i":310.8,"s":-0.64},{"i":312.9,"s":-0.6},{"i":315.1,"s":-0.545},{"i":317,"s":-0.4845}
]
},
"vconcat": [
{
"width": 1591,
"height": 742,
"title": {"text": "▼  USDJPY.m,H1  133.115 133.182 133.087 133.154", "anchor": "start", "frame": "group", "orient": "top", "offset": -21, "baseline": "alphabetic", "dx": 6, "fontSize": 9, "fontWeight": "normal", "font": "Liberation Sans", "color": "#000000"},
"layer": [
{"data": {"name": "days"}, "mark": {"type": "rule", "color": "#000000", "strokeDash": [3, 3], "strokeWidth": 1},
 "encoding": {"x": {"field": "i", "type": "quantitative", "title": null, "scale": {"domain": [-0.5, 397.25], "nice": false, "zero": false}, "axis": {"values": [0,8,16,24,32,40,48,56,64,72,80,88,96,104,112,120,128,136,144,152,160,168,176,184,192,200,208,216,224,232,240,248,256,264,272,280,288,296,304,312,320,328,336,344,352,360,368,376,384,392], "labels": false, "ticks": false, "domain": false, "grid": true, "gridColor": "#c8c8c8", "gridDash": [3, 3], "title": null}}}},
{"data": {"name": "levels"}, "mark": {"type": "rule", "strokeWidth": 1},
 "encoding": {"y": {"field": "p", "type": "quantitative", "title": null, "scale": {"domain": [130.217, 137.844], "nice": false, "zero": false}, "axis": {"orient": "right", "values": [130.23,130.56,130.9,131.24,131.58,131.92,132.26,132.6,132.94,133.28,133.62,133.96,134.3,134.64,134.98,135.32,135.66,135.99,136.33,136.67,137.01,137.35,137.69], "format": ".3f", "grid": true, "gridColor": "#c8c8c8", "gridDash": [3, 3], "tickSize": 3, "domain": false, "labelPadding": 3, "labelFontSize": 9, "labelColor": "#000000", "labelBaseline": "middle", "labelAlign": "left", "labelOverlap": false, "labelBound": false, "labelFlush": false, "title": null}},
  "color": {"condition": {"test": "datum.k == 'b'", "value": "#c0c0c0"}, "value": "#000000"}}},
{"data": {"name": "ma"}, "mark": {"type": "line", "strokeWidth": 1},
 "encoding": {"x": {"field": "i", "type": "quantitative", "title": null, "scale": {"domain": [-0.5, 397.25], "nice": false, "zero": false}},
  "y": {"field": "p", "type": "quantitative", "title": null, "scale": {"domain": [130.217, 137.844], "nice": false, "zero": false}},
  "color": {"field": "k", "type": "nominal", "scale": {"domain": ["f", "s"], "range": ["#00bfff", "#ffd700"]}, "legend": null}}},
{"data": {"name": "bars"}, "mark": {"type": "rule", "color": "#000000", "strokeWidth": 1},
 "encoding": {"x": {"field": "i", "type": "quantitative", "title": null, "scale": {"domain": [-0.5, 397.25], "nice": false, "zero": false}},
  "y": {"field": "l", "type": "quantitative", "title": null, "scale": {"domain": [130.217, 137.844], "nice": false, "zero": false}},
  "y2": {"field": "h"}}},
{"data": {"name": "bars"}, "mark": {"type": "bar", "width": 2, "stroke": "#000000", "strokeWidth": 1},
 "encoding": {"x": {"field": "i", "type": "quantitative", "title": null, "scale": {"domain": [-0.5, 397.25], "nice": false, "zero": false}},
  "y": {"field": "o", "type": "quantitative", "title": null, "scale": {"domain": [130.217, 137.844], "nice": false, "zero": false}},
  "y2": {"field": "c"},
  "fill": {"condition": {"test": "datum.c > datum.o", "value": "#32cd32"}, "value": "#000000"}}},
{"data": {"name": "boxes"}, "mark": {"type": "rect", "fillOpacity": 0, "stroke": "#0000ff", "strokeWidth": 1},
 "encoding": {"x": {"field": "i", "type": "quantitative", "title": null, "scale": {"domain": [-0.5, 397.25], "nice": false, "zero": false}},
  "x2": {"field": "i2"},
  "y": {"field": "p", "type": "quantitative", "title": null, "scale": {"domain": [130.217, 137.844], "nice": false, "zero": false}},
  "y2": {"field": "p2"}}},
{"data": {"name": "levels"}, "mark": {"type": "point", "shape": "M0.2,-0.5H4.3V0.5H0.2Z", "size": 400, "filled": true, "opacity": 1, "strokeWidth": 0},
 "encoding": {"x": {"value": "width"},
  "y": {"field": "p", "type": "quantitative", "title": null, "scale": {"domain": [130.217, 137.844], "nice": false, "zero": false}},
  "fill": {"condition": {"test": "datum.k == 'b'", "value": "#2a2a2a"}, "value": "#000000"}}},
{"data": {"name": "levels"}, "mark": {"type": "text", "align": "left", "baseline": "middle", "dx": 6, "fontSize": 9, "font": "Liberation Sans", "color": "#ffffff"},
 "encoding": {"x": {"value": "width"},
  "y": {"field": "p", "type": "quantitative", "title": null, "scale": {"domain": [130.217, 137.844], "nice": false, "zero": false}},
  "text": {"field": "p", "type": "quantitative", "format": ".3f"}}}
]
},
{
"width": 1591,
"height": 126,
"title": {"text": "MACD(12,26,9) -0.3389 -0.4845", "anchor": "start", "frame": "group", "orient": "top", "offset": -21, "baseline": "alphabetic", "dx": 5, "fontSize": 9, "fontWeight": "normal", "font": "Liberation Sans", "color": "#000000"},
"layer": [
{"data": {"name": "days"}, "mark": {"type": "rule", "color": "#000000", "strokeDash": [3, 3], "strokeWidth": 1},
 "encoding": {"x": {"field": "i", "type": "quantitative", "title": null, "scale": {"domain": [-0.5, 397.25], "nice": false, "zero": false}, "axis": {"values": [0,8,16,24,32,40,48,56,64,72,80,88,96,104,112,120,128,136,144,152,160,168,176,184,192,200,208,216,224,232,240,248,256,264,272,280,288,296,304,312,320,328,336,344,352,360,368,376,384,392], "labelExpr": "datum.value % 16 == 0 && datum.value <= 304 ? ['25 Jul 2022','25 Jul 19:00','26 Jul 11:00','27 Jul 03:00','27 Jul 19:00','28 Jul 11:00','29 Jul 03:00','29 Jul 19:00','1 Aug 11:00','2 Aug 03:00','2 Aug 19:00','3 Aug 11:00','4 Aug 03:00','4 Aug 19:00','5 Aug 11:00','8 Aug 03:00','8 Aug 19:00','9 Aug 11:00','10 Aug 03:00','10 Aug 19:00'][datum.value / 16] : ''", "grid": true, "gridColor": "#c8c8c8", "gridDash": [3, 3], "domain": false, "tickSize": 4, "tickOpacity": {"condition": {"test": "datum.value % 16 == 0 && datum.value <= 304", "value": 1}, "value": 0}, "labelAlign": "left", "labelBaseline": "top", "labelPadding": 1, "labelOffset": 2, "labelFlush": false, "labelBound": false, "labelOverlap": false, "labelFontSize": 9.5, "labelColor": "#000000", "title": null}}}},
{"data": {"name": "bars"}, "mark": {"type": "rule", "color": "#c0c0c0", "strokeWidth": 1},
 "encoding": {"x": {"field": "i", "type": "quantitative", "title": null, "scale": {"domain": [-0.5, 397.25], "nice": false, "zero": false}},
  "y": {"field": "m", "type": "quantitative", "title": null, "scale": {"domain": [-0.825, 0.688], "nice": false, "zero": false}, "axis": {"orient": "right", "values": [0.5931, 0, -0.7402], "labelExpr": "datum.value == 0 ? '0.00' : format(datum.value, '.4f')", "grid": true, "gridColor": "#c8c8c8", "gridDash": [3, 3], "gridOpacity": {"condition": {"test": "datum.value == 0", "value": 1}, "value": 0}, "tickSize": 3, "domain": false, "labelPadding": 3, "labelFontSize": 9, "labelColor": "#000000", "labelBaseline": "middle", "labelAlign": "left", "labelOverlap": false, "labelBound": false, "labelFlush": false, "title": null}},
  "y2": {"datum": 0}}},
{"data": {"name": "sig"}, "mark": {"type": "line", "color": "#ff0000", "strokeWidth": 1, "strokeDash": [2, 2]},
 "encoding": {"x": {"field": "i", "type": "quantitative", "title": null, "scale": {"domain": [-0.5, 397.25], "nice": false, "zero": false}},
  "y": {"field": "s", "type": "quantitative", "title": null, "scale": {"domain": [-0.825, 0.688], "nice": false, "zero": false}}}}
]
}
]
}
